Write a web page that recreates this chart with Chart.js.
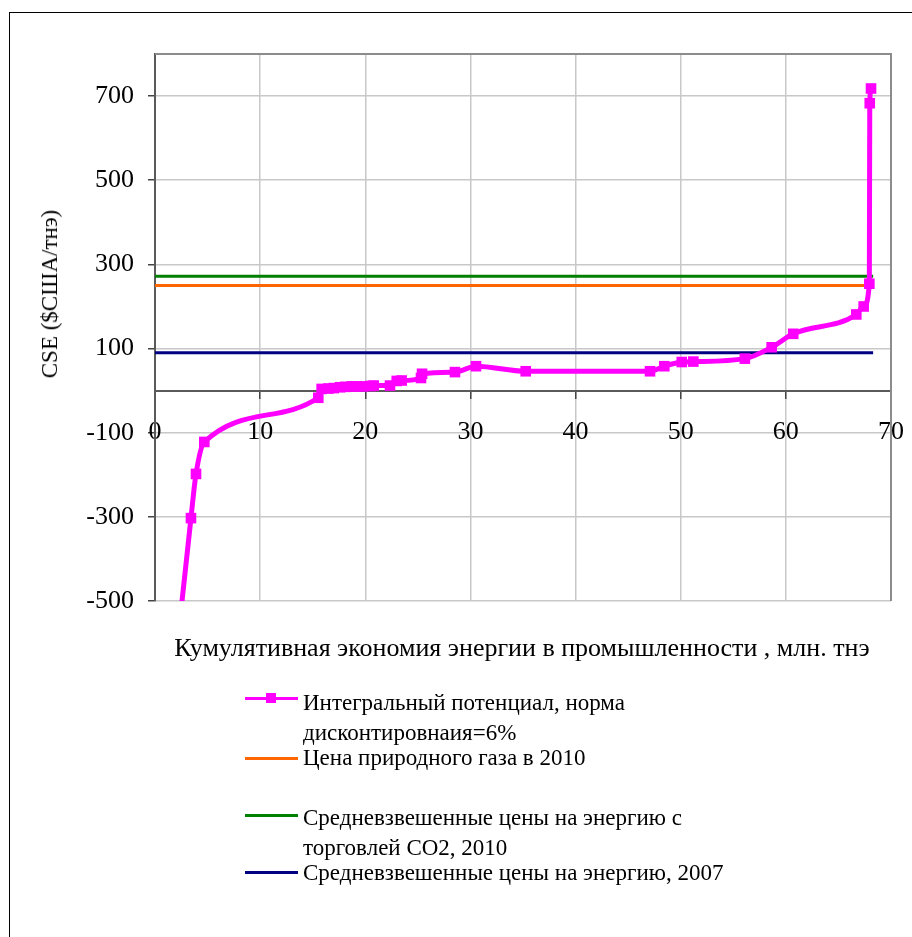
<!DOCTYPE html>
<html>
<head>
<meta charset="utf-8">
<script src="https://cdn.jsdelivr.net/npm/chart.js@4.4.0/dist/chart.umd.min.js"></script>
<style>
    body { margin: 0; background: #fff; font-family: 'Liberation Serif', 'Times New Roman', serif; color: #000; }
    #wrap { position: relative; width: 912px; height: 937px; overflow: hidden; }
    #frame { position: absolute; left: 9px; top: 12px; width: 1000px; height: 1000px; border: 1.5px solid #000; }
    #cseChart { position: absolute; left: 0; top: 0; }
    .ytitle { position: absolute; left: 50px; top: 294px; transform: translate(-50%, -50%) rotate(-90deg); font-size: 23px; white-space: nowrap; }
    .xtitle { position: absolute; left: 522px; top: 648px; transform: translate(-50%, -50%); font-size: 26px; white-space: nowrap; }
    .lg-line { position: absolute; left: 245px; width: 53px; height: 3px; }
    .lg-mark { position: absolute; left: 266px; width: 10px; height: 10px; background: #ff00ff; }
    .lg-text { position: absolute; left: 303px; font-size: 23px; line-height: 30px; white-space: nowrap; }
</style>
</head>
<body>
<div id="wrap">
    <div id="frame"></div>
    <canvas id="cseChart" width="912" height="937"></canvas>
    <div class="ytitle">CSE ($США/тнэ)</div>
    <div class="xtitle">Кумулятивная экономия энергии в промышленности , млн. тнэ</div>

    <div class="lg-line" style="top:697px; background:#ff00ff;"></div>
    <div class="lg-mark" style="top:693px;"></div>
    <div class="lg-text" style="top:688px;">Интегральный потенциал, норма<br>дисконтировнаия=6%</div>

    <div class="lg-line" style="top:757px; background:#ff6600;"></div>
    <div class="lg-text" style="top:743px;">Цена природного газа в 2010</div>

    <div class="lg-line" style="top:814px; background:#008000;"></div>
    <div class="lg-text" style="top:803px;">Средневзвешенные цены на энергию с<br>торговлей СО2, 2010</div>

    <div class="lg-line" style="top:871px; background:#000080;"></div>
    <div class="lg-text" style="top:858px;">Средневзвешенные цены на энергию, 2007</div>
</div>

<script>
// cumulative savings (mln toe) and cost of saved energy ($/toe)
var cumSavings = [2.1, 3.42, 3.9, 4.69, 15.53, 15.85, 16.5, 17.0, 17.6, 18.1, 18.7, 19.2, 19.8, 20.5, 20.8,
                  22.35, 22.99, 23.46, 25.3, 25.4, 28.53, 30.53, 35.26, 47.08, 48.44, 50.1, 51.2, 56.1,
                  58.65, 60.7, 66.7, 67.4, 67.94, 67.98, 68.1];
var cseValues = [-610, -303, -198, -122, -17, 4, 5, 6, 8, 9, 10, 10, 10, 11, 12,
                 12, 23, 24, 30, 40, 44, 58, 46, 46, 58, 68, 69, 76,
                 103, 135, 181, 200, 254, 683, 718];

// price reference lines
var priceX = [0, 68.3];
var gasPrice2010 = [250, 250];
var co2Price2010 = [272, 272];
var avgPrice2007 = [90, 90];

var xTicks = [0, 10, 20, 30, 40, 50, 60, 70];
var yTicks = [-500, -300, -100, 100, 300, 500, 700];

var serif = "'Liberation Serif', 'Times New Roman', serif";

function toPoints(xs, ys) {
    return xs.map(function(x, i) { return { x: x, y: ys[i] }; });
}

function noPadding(scale) {
    scale.paddingLeft = 0;
    scale.paddingRight = 0;
    scale.paddingTop = 0;
    scale.paddingBottom = 0;
}

// grey frame on top and right of the plot area
var plotFrame = {
    id: 'plotFrame',
    beforeDatasetsDraw: function(chart) {
        var ctx = chart.ctx, a = chart.chartArea;
        ctx.save();
        ctx.strokeStyle = '#8c8c8c';
        ctx.lineWidth = 2;
        ctx.beginPath();
        ctx.moveTo(a.left, a.top);
        ctx.lineTo(a.right, a.top);
        ctx.lineTo(a.right, a.bottom);
        ctx.stroke();
        ctx.restore();
    }
};

document.addEventListener('DOMContentLoaded', function() {
    var ctx = document.getElementById('cseChart').getContext('2d');
    new Chart(ctx, {
        type: 'line',
        data: {
            datasets: [{
                label: 'Интегральный потенциал, норма дисконтировнаия=6%',
                data: toPoints(cumSavings, cseValues),
                borderColor: '#ff00ff',
                backgroundColor: '#ff00ff',
                borderWidth: 5,
                pointStyle: 'rect',
                pointRadius: 7.5,
                pointBorderWidth: 0,
                cubicInterpolationMode: 'monotone'
            }, {
                label: 'Цена природного газа в 2010',
                data: toPoints(priceX, gasPrice2010),
                borderColor: '#ff6600',
                borderWidth: 3,
                pointRadius: 0
            }, {
                label: 'Средневзвешенные цены на энергию с торговлей СО2, 2010',
                data: toPoints(priceX, co2Price2010),
                borderColor: '#008000',
                borderWidth: 3,
                pointRadius: 0
            }, {
                label: 'Средневзвешенные цены на энергию, 2007',
                data: toPoints(priceX, avgPrice2007),
                borderColor: '#000080',
                borderWidth: 3,
                pointRadius: 0
            }]
        },
        options: {
            responsive: false,
            animation: false,
            devicePixelRatio: 1,
            layout: { padding: { left: 65, top: 54, right: 21, bottom: 336 } },
            plugins: {
                legend: { display: false },
                tooltip: { enabled: false }
            },
            scales: {
                x: {
                    type: 'linear',
                    min: 0,
                    max: 70,
                    position: { y: 0 },
                    afterBuildTicks: function(scale) {
                        scale.ticks = xTicks.map(function(v) { return { value: v }; });
                    },
                    afterFit: function(scale) { scale.height = 0; noPadding(scale); },
                    grid: { color: '#c8c8c8', lineWidth: 1.5, tickLength: 7, tickColor: '#444' },
                    border: { color: '#5a5a5a', width: 2 },
                    ticks: { padding: 19, color: '#000', maxRotation: 0, font: { family: serif, size: 26 } }
                },
                y: {
                    min: -500,
                    max: 800,
                    afterBuildTicks: function(scale) {
                        scale.ticks = yTicks.map(function(v) { return { value: v }; });
                    },
                    afterFit: function(scale) { scale.width = 90; noPadding(scale); },
                    grid: { color: '#c8c8c8', lineWidth: 1.5, tickLength: 7, tickColor: '#444' },
                    border: { color: '#5a5a5a', width: 2 },
                    ticks: { padding: 14, color: '#000', font: { family: serif, size: 26 } }
                }
            }
        },
        plugins: [plotFrame]
    });
});
</script>
</body>
</html>
